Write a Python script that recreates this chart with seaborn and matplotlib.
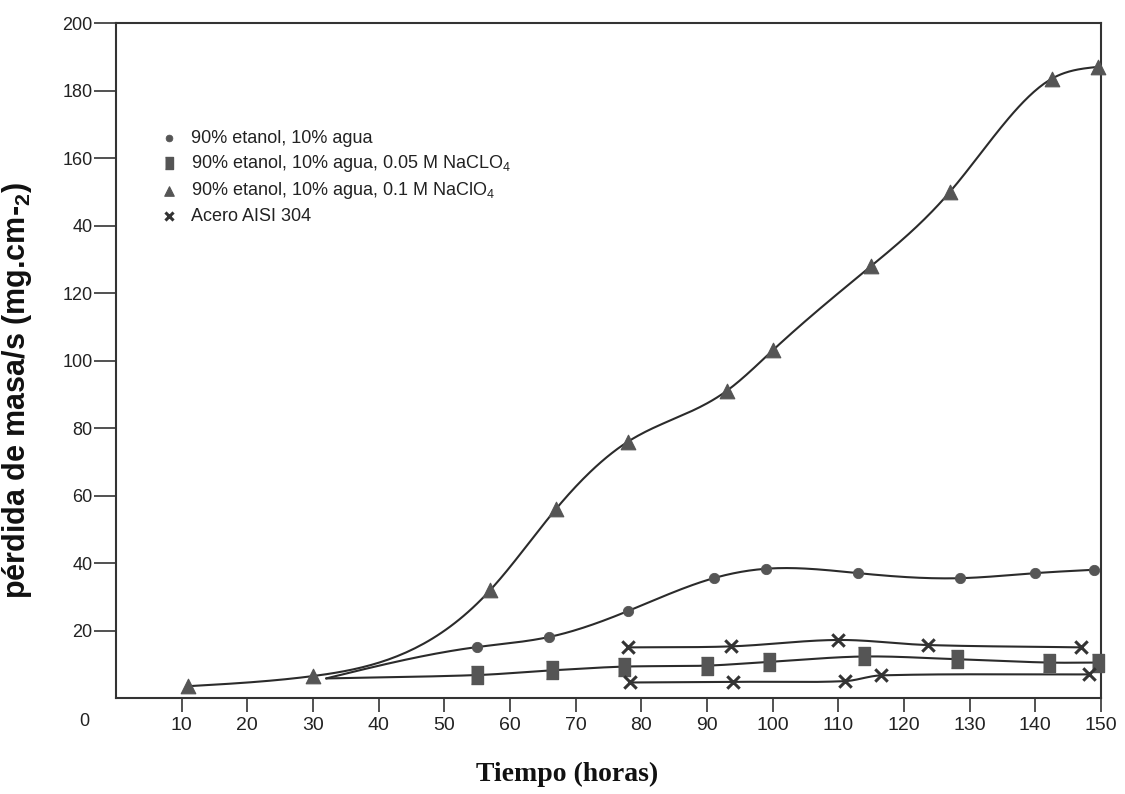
import numpy as np
import pandas as pd
import matplotlib
matplotlib.use("Agg")
import matplotlib.pyplot as plt
import seaborn as sns

# ---------------- data ----------------
tri_x = [11, 30, 57, 67, 78, 93, 100, 115, 127, 142.5, 149.5]
tri_y = [3.5, 6.5, 32, 56, 76, 91, 103, 128, 150, 183.5, 187]

circ_x = [32, 55, 66, 78, 91, 99, 113, 128.5, 140, 149]
circ_y = [5.8, 15.1, 18.1, 25.8, 35.5, 38.3, 37.0, 35.5, 37.0, 38.0]

sq_x = [32, 55, 66.4, 77.3, 90, 99.4, 113.9, 128, 142, 149.5]
sq_y = [5.8, 6.8, 8.2, 9.3, 9.6, 10.7, 12.3, 11.5, 10.5, 10.5]

xu_x = [78, 93.7, 110, 123.6, 147]
xu_y = [15.0, 15.3, 17.2, 15.7, 15.0]
xl_x = [78.3, 94, 111, 116.5, 148.2]
xl_y = [4.6, 4.8, 5.0, 6.7, 7.0]

labels = [
    "90% etanol, 10% agua",
    "90% etanol, 10% agua, 0.05 M NaCLO$_4$",
    "90% etanol, 10% agua, 0.1 M NaClO$_4$",
    "Acero AISI 304",
]
xticks = [10, 20, 30, 40, 50, 60, 70, 80, 90, 100, 110, 120, 130, 140, 150]
yticks = [20, 40, 60, 80, 100, 120, 140, 160, 180, 200]
ytick_labels = ["20", "40", "60", "80", "100", "120", "40", "160", "180", "200"]


def natural_spline(x, y, n=40):
    """Natural cubic spline curve through the points."""
    x = np.asarray(x, float)
    y = np.asarray(y, float)
    k = len(x)
    h = np.diff(x)
    A = np.zeros((k, k))
    b = np.zeros(k)
    A[0, 0] = 1
    A[-1, -1] = 1
    for i in range(1, k - 1):
        A[i, i - 1] = h[i - 1]
        A[i, i] = 2 * (h[i - 1] + h[i])
        A[i, i + 1] = h[i]
        b[i] = 3 * ((y[i + 1] - y[i]) / h[i] - (y[i] - y[i - 1]) / h[i - 1])
    c = np.linalg.solve(A, b)
    xs, ys = [], []
    for i in range(k - 1):
        bi = (y[i + 1] - y[i]) / h[i] - h[i] * (2 * c[i] + c[i + 1]) / 3
        di = (c[i + 1] - c[i]) / (3 * h[i])
        t = np.linspace(0, h[i], n, endpoint=False)
        xs.append(x[i] + t)
        ys.append(y[i] + bi * t + c[i] * t**2 + di * t**3)
    xs.append([x[-1]])
    ys.append([y[-1]])
    return np.concatenate(xs), np.concatenate(ys)


def hermite(x, y, n=40):
    """Cubic Hermite curve through the points (finite-difference tangents)."""
    x = np.asarray(x, float)
    y = np.asarray(y, float)
    m = np.zeros_like(y)
    m[1:-1] = (y[2:] - y[:-2]) / (x[2:] - x[:-2])
    m[0] = (y[1] - y[0]) / (x[1] - x[0])
    m[-1] = (y[-1] - y[-2]) / (x[-1] - x[-2])
    xs, ys = [], []
    for i in range(len(x) - 1):
        h = x[i + 1] - x[i]
        t = np.linspace(0, 1, n, endpoint=False)
        h00 = 2 * t**3 - 3 * t**2 + 1
        h10 = t**3 - 2 * t**2 + t
        h01 = -2 * t**3 + 3 * t**2
        h11 = t**3 - t**2
        xs.append(x[i] + t * h)
        ys.append(h00 * y[i] + h10 * h * m[i] + h01 * y[i + 1] + h11 * h * m[i + 1])
    xs.append([x[-1]])
    ys.append([y[-1]])
    return np.concatenate(xs), np.concatenate(ys)


sns.set_style("white")
plt.rcParams["font.family"] = ["Liberation Sans", "DejaVu Sans"]
plt.rcParams["mathtext.default"] = "regular"

fig = plt.figure(figsize=(11.25, 7.94), dpi=100)
ax = fig.add_axes([0.1031, 0.1209, 0.8756, 0.8501])

line_col = "#2b2b2b"
mk_col = "#555555"

series_lines = [
    (tri_x, tri_y, natural_spline),
    (circ_x, circ_y, natural_spline),
    (sq_x, sq_y, hermite),
    (xu_x, xu_y, hermite),
    (xl_x, xl_y, hermite),
]
for sx, sy, fn in series_lines:
    cx, cy = fn(sx, sy)
    sns.lineplot(x=cx, y=cy, ax=ax, color=line_col, linewidth=1.5, sort=False,
                 estimator=None, legend=False, clip_on=False)

rect = [(-0.7, -1), (0.7, -1), (0.7, 1), (-0.7, 1)]
sns.scatterplot(x=circ_x[1:], y=circ_y[1:], ax=ax, marker="o", s=55, color=mk_col,
                edgecolor=mk_col, label=labels[0], clip_on=False, zorder=3)
sns.scatterplot(x=sq_x[1:], y=sq_y[1:], ax=ax, marker=rect, s=150, color=mk_col,
                edgecolor=mk_col, label=labels[1], clip_on=False, zorder=3)
sns.scatterplot(x=tri_x, y=tri_y, ax=ax, marker="^", s=110, color=mk_col,
                edgecolor=mk_col, label=labels[2], clip_on=False, zorder=3)
sns.scatterplot(x=xu_x + xl_x, y=xu_y + xl_y, ax=ax, marker="x", s=80, color="#333333",
                linewidth=2.2, label=labels[3], clip_on=False, zorder=3)

ax.set_xlim(0, 150)
ax.set_ylim(0, 200)
ax.set_xticks(xticks)
ax.set_xticklabels([str(v) for v in xticks], fontsize=14, color="#222222")
ax.set_yticks(yticks)
ax.set_yticklabels(ytick_labels, fontsize=13, color="#222222")
ax.tick_params(axis="y", direction="out", length=16, width=1.2, pad=1, left=True, color="#333333")
ax.tick_params(axis="x", direction="out", length=10, width=1.2, pad=4, bottom=True, color="#333333")
ax.text(-0.027, -0.022, "0", transform=ax.transAxes, ha="right", va="top", fontsize=13, color="#222222")

for sp in ax.spines.values():
    sp.set_visible(True)
    sp.set_color("#333333")
    sp.set_linewidth(1.5)

ax.set_xlabel("Tiempo (horas)", family=["Liberation Serif", "DejaVu Serif"], fontweight="bold",
              fontsize=20, color="#111111")
ax.xaxis.set_label_coords(0.458, -0.095)
ax.set_ylabel("pérdida de masa/s (mg.cm-$_2$)", fontweight="bold", fontsize=22, color="#111111")
ax.yaxis.set_label_coords(-0.083, 0.456)

leg = ax.legend(loc="upper left", bbox_to_anchor=(0.045, 0.842), frameon=False, fontsize=13,
                borderpad=0, borderaxespad=0, handlelength=1.0, handletextpad=0.7,
                labelspacing=0.35, markerscale=0.65)
for t in leg.get_texts():
    t.set_color("#222222")

fig.savefig("out.png", dpi=100, facecolor="white")
